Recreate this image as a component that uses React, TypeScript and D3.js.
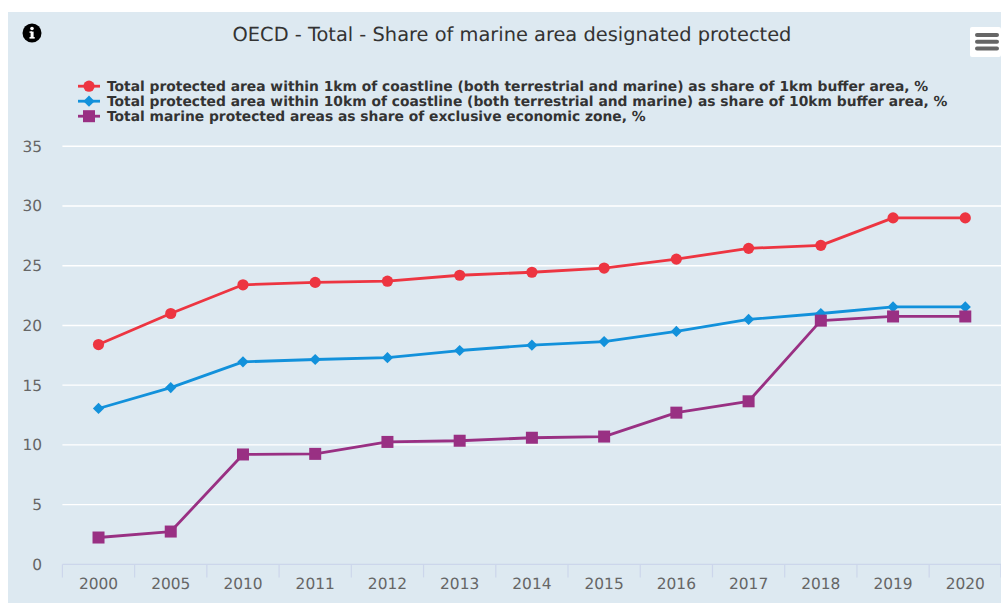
import React from "react";
import * as d3 from "d3";

const years = ["2000","2005","2010","2011","2012","2013","2014","2015","2016","2017","2018","2019","2020"];
const within1km = [18.4,21,23.4,23.6,23.7,24.2,24.45,24.8,25.55,26.45,26.7,29,29];
const within10km = [13.05,14.8,16.95,17.15,17.3,17.9,18.35,18.65,19.5,20.5,21,21.55,21.55];
const marine = [2.25,2.75,9.2,9.25,10.25,10.35,10.6,10.7,12.7,13.65,20.4,20.75,20.75];
const yTicks = [0,5,10,15,20,25,30,35];
const title = "OECD - Total - Share of marine area designated protected";
const label1km = "Total protected area within 1km of coastline (both terrestrial and marine) as share of 1km buffer area, %";
const label10km = "Total protected area within 10km of coastline (both terrestrial and marine) as share of 10km buffer area, %";
const labelMarine = "Total marine protected areas as share of exclusive economic zone, %";

const FONT = "'DejaVu Sans', sans-serif";
const RED = "#ed3541";
const BLUE = "#1291db";
const PURPLE = "#993083";

type Kind = "circle" | "diamond" | "square";

function Marker({ kind, x, y, color }: { kind: Kind; x: number; y: number; color: string }) {
  if (kind === "circle") return <circle cx={x} cy={y} r={5.6} fill={color} />;
  if (kind === "diamond") {
    const r = 5.6;
    return <path d={`M${x},${y - r}L${x + r},${y}L${x},${y + r}L${x - r},${y}Z`} fill={color} />;
  }
  const s = 6;
  return <rect x={x - s} y={y - s} width={2 * s} height={2 * s} fill={color} />;
}

const seriesList: { name: string; values: number[]; color: string; kind: Kind }[] = [
  { name: label1km, values: within1km, color: RED, kind: "circle" },
  { name: label10km, values: within10km, color: BLUE, kind: "diamond" },
  { name: labelMarine, values: marine, color: PURPLE, kind: "square" },
];

// Draw order keeps the purple squares above the blue diamonds.
export default function App() {
  const x = d3.scaleBand<string>().domain(years).range([62.4, 1001.4]);
  const y = d3.scaleLinear().domain([0, 35]).range([564.4, 146.2]);
  const cx = (yr: string) => (x(yr) as number) + x.bandwidth() / 2;
  const line = d3.line<number>().x((_, i) => cx(years[i])).y((v) => y(v));
  const tickEdges = [...years.map((yr) => x(yr) as number), 1001];

  return (
    <svg width={1001} height={603} textRendering="geometricPrecision" style={{ position: "absolute", left: 0, top: 0, fontFamily: FONT }}>
      <rect x={8} y={12} width={993} height={591} fill="#dde9f1" />

      {yTicks.filter((t) => t > 0).map((t) => (
        <line key={t} x1={62.4} x2={1001} y1={y(t)} y2={y(t)} stroke="#ffffff" strokeWidth={1.4} />
      ))}
      <line x1={62.4} x2={1001} y1={y(0)} y2={y(0)} stroke="#ccd6eb" strokeWidth={1.2} />
      {tickEdges.map((e, i) => (
        <line key={i} x1={e} x2={e} y1={y(0)} y2={y(0) + 13} stroke="#ccd6eb" strokeWidth={1.2} />
      ))}

      {yTicks.map((t) => (
        <text key={t} x={42} y={y(t) + 5.5} textAnchor="end" fontSize={15.4} fill="#666666">{t}</text>
      ))}
      {years.map((yr) => (
        <text key={yr} x={cx(yr)} y={589} textAnchor="middle" fontSize={15.4} fill="#666666">{yr}</text>
      ))}

      {seriesList.map((s) => (
        <g key={s.name}>
          <path d={line(s.values) ?? ""} fill="none" stroke={s.color} strokeWidth={2.8} strokeLinejoin="round" />
          {s.values.map((v, i) => (
            <Marker key={i} kind={s.kind} x={cx(years[i])} y={y(v)} color={s.color} />
          ))}
        </g>
      ))}

      <text x={512} y={41} textAnchor="middle" fontSize={19.4} fill="#333333">{title}</text>

      {seriesList.map((s, i) => {
        const ly = 86.2 + i * 15;
        return (
          <g key={s.name}>
            <line x1={78} x2={100} y1={ly} y2={ly} stroke={s.color} strokeWidth={2.8} />
            <Marker kind={s.kind} x={89} y={ly} color={s.color} />
            <text x={107} y={ly + 4.8} fontSize={13.84} fontWeight="bold" fill="#333333">{s.name}</text>
          </g>
        );
      })}

      {/* Info badge */}
      <circle cx={32} cy={33} r={9.5} fill="#000000" />
      <rect x={30.6} y={31.6} width={3} height={6} fill="#ffffff" />
      <rect x={29.5} y={37} width={5.2} height={1.6} fill="#ffffff" />
      <rect x={29.5} y={31.4} width={2.5} height={1.4} fill="#ffffff" />
      <circle cx={32} cy={28.5} r={1.8} fill="#ffffff" />

      {/* Export menu button */}
      <rect x={970} y={27} width={31} height={30} rx={2} fill="#ffffff" />
      {[33, 39.8, 46.6].map((b) => (
        <rect key={b} x={975} y={b} width={24} height={4} rx={2} fill="#666666" />
      ))}
    </svg>
  );
}
